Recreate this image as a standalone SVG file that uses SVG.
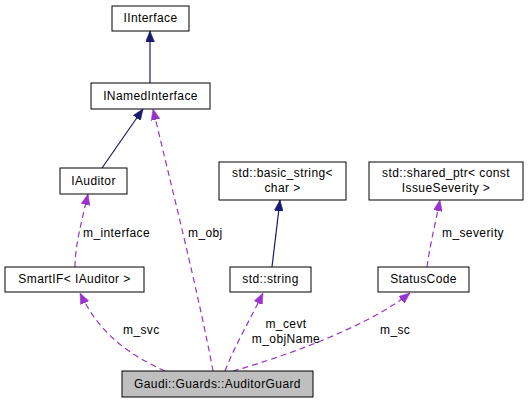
<svg xmlns="http://www.w3.org/2000/svg" width="528" height="403" viewBox="0 0 528 403">
<style>
.box{fill:#fff;stroke:#000;stroke-width:1}
.main{fill:#bfbfbf;stroke:#000;stroke-width:1}
text{font-family:"Liberation Sans",Arial,Helvetica,sans-serif;font-size:12px;letter-spacing:0.4px;fill:#000}
.c{text-anchor:middle}
.inh{fill:none;stroke:#191970;stroke-width:1.2}
.use{fill:none;stroke:#9a32cd;stroke-width:1.2;stroke-dasharray:6,4}
</style>
<defs>
<marker id="an" viewBox="0 0 11 9" markerWidth="11" markerHeight="9" refX="11" refY="4.5" orient="auto" markerUnits="userSpaceOnUse">
<path d="M0,0 L11,4.5 L0,9 z" fill="#191970" stroke="#191970" stroke-width="0.5"/>
</marker>
<marker id="ap" viewBox="0 0 11 9" markerWidth="11" markerHeight="9" refX="11" refY="4.5" orient="auto" markerUnits="userSpaceOnUse">
<path d="M0,0 L11,4.5 L0,9 z" fill="#9a32cd" stroke="#9a32cd" stroke-width="0.5"/>
</marker>
</defs>
<g id="edges">
<path class="inh" d="M150,83 L150,31" marker-end="url(#an)"/>
<path class="inh" d="M102,168 L143,109" marker-end="url(#an)"/>
<path class="inh" d="M272,267 L280,200" marker-end="url(#an)"/>
<path class="use" d="M75,267 C75,245 82,220 88,194" marker-end="url(#ap)"/>
<path class="use" d="M213,371 C200,300 170,180 153,109" marker-end="url(#ap)"/>
<path class="use" d="M165,371 C130,355 100,335 80,293" marker-end="url(#ap)"/>
<path class="use" d="M225,371 C235,345 250,320 263,293" marker-end="url(#ap)"/>
<path class="use" d="M233,371 C290,355 370,325 410,293" marker-end="url(#ap)"/>
<path class="use" d="M427,267 C430,245 435,225 440,200" marker-end="url(#ap)"/>
<text x="83" y="237">m_interface</text>
<text x="188" y="237">m_obj</text>
<text x="123" y="334">m_svc</text>
<text x="286" y="328" class="c">m_cevt</text>
<text x="286" y="343" class="c">m_objName</text>
<text x="380" y="334">m_sc</text>
<text x="442" y="237">m_severity</text>
</g>
<g id="IInterface"><rect class="box" x="112" y="6" width="77" height="25"/><text x="150.5" y="22" class="c">IInterface</text></g>
<g id="INamedInterface"><rect class="box" x="91" y="83" width="119" height="26"/><text x="150.5" y="100" class="c">INamedInterface</text></g>
<g id="IAuditor"><rect class="box" x="60" y="168" width="67" height="26"/><text x="93.5" y="185" class="c">IAuditor</text></g>
<g id="basic_string"><rect class="box" x="219" y="162" width="127" height="38"/><text x="282.5" y="177" class="c">std::basic_string&lt;</text><text x="282.5" y="192" class="c">char &gt;</text></g>
<g id="shared_ptr"><rect class="box" x="369" y="162" width="154" height="38"/><text x="446" y="177" class="c">std::shared_ptr&lt; const</text><text x="446" y="192" class="c">IssueSeverity &gt;</text></g>
<g id="SmartIF"><rect class="box" x="5" y="267" width="139" height="25"/><text x="74.5" y="283" class="c">SmartIF&lt; IAuditor &gt;</text></g>
<g id="string"><rect class="box" x="230" y="267" width="81" height="25"/><text x="270.5" y="283" class="c">std::string</text></g>
<g id="StatusCode"><rect class="box" x="378" y="267" width="91" height="25"/><text x="423.5" y="283" class="c">StatusCode</text></g>
<g id="AuditorGuard"><rect class="main" x="122" y="371" width="191" height="26"/><text x="217.5" y="388" class="c">Gaudi::Guards::AuditorGuard</text></g>
</svg>
